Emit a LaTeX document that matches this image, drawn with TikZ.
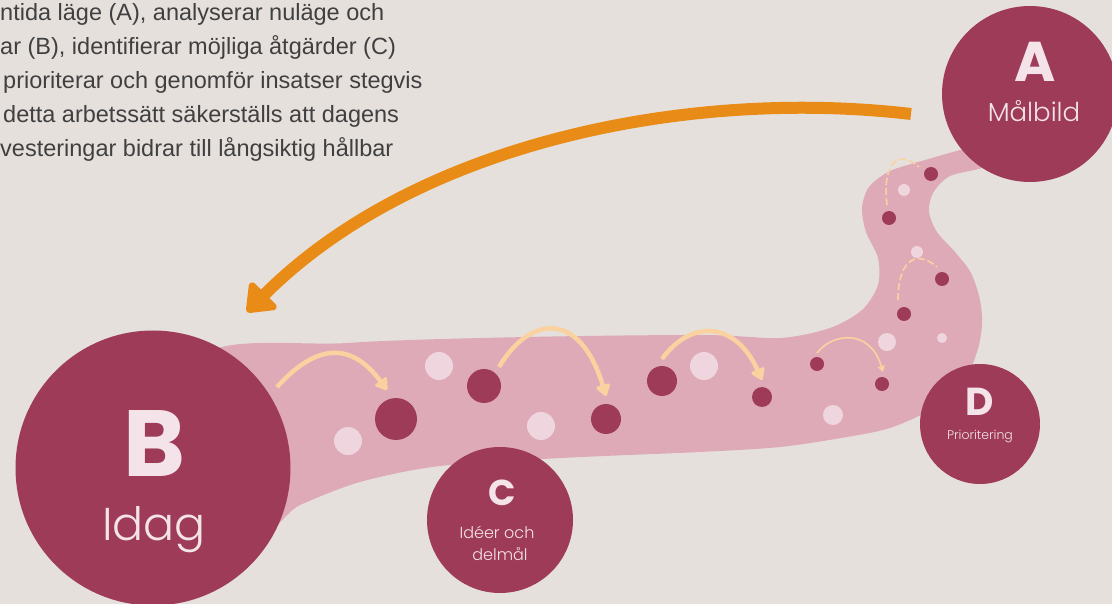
\documentclass[tikz,border=0pt]{standalone}
\usepackage{fontspec}
\usepackage{tikz}
\usetikzlibrary{arrows.meta}
\newfontfamily\parf{Liberation Sans}
\newfontfamily\circf{Poppins}
\IfFontExistsTF{Poppins Light}{\newfontfamily\thinf{Poppins Light}}{\newfontfamily\thinf{Poppins}}
\definecolor{bgc}{HTML}{E6E0DD}
\definecolor{roadc}{HTML}{DEAAB7}
\definecolor{wine}{HTML}{9E3B58}
\definecolor{paled}{HTML}{EFD5DD}
\definecolor{orc}{HTML}{E98C17}
\definecolor{peach}{HTML}{F9D29F}
\definecolor{txtc}{HTML}{404040}
\definecolor{lblc}{HTML}{F4E4E9}
\tikzset{
  bigc/.style={circle,fill=wine,inner sep=0pt},
  dk/.style={circle,fill=wine,inner sep=0pt},
  lt/.style={circle,fill=paled,inner sep=0pt},
  hop/.style={-{Triangle[length=13pt,width=16pt,round]},line width=4.5pt,peach},
  trail/.style={line width=1.6pt,peach,dash pattern=on 7pt off 3pt},
  ltr/.style={anchor=base,text=lblc,inner sep=0pt},
  lbl/.style={anchor=base,text=lblc,inner sep=0pt},
  para/.style={anchor=base west,text=txtc,inner sep=0pt,font=\parf\fontsize{23.5}{28}\selectfont}
}
\begin{document}
\begin{tikzpicture}[x=1pt,y=-1pt]
\fill[bgc] (0,0) rectangle (1112,604);
\useasboundingbox (0,0) rectangle (1112,604);
\clip (0,0) rectangle (1112,604);
% text top left
\foreach \ln/\xo [count=\i] in {{ntida läge (A), analyserar nuläge och}/0,
  {ar (B), identifierar möjliga åtgärder (C)}/0,
  {prioriterar och genomför insatser stegvis}/3,
  {detta arbetssätt säkerställs att dagens}/3,
  {vesteringar bidrar till långsiktig hållbar}/0}
  \node[para] (p\i) at (\xo,21+33.8*\i-33.8) {\ln};
% road
\fill[roadc] plot[smooth cycle,tension=0.5] coordinates {
  (200,360) (347,343) (526,337) (704,335) (780,338) (830,328) (862,310)
  (878,285) (878,258) (866,232) (862,208) (869,187) (890,171) (925,160)
  (960,150) (995,140) (1015,150) (985,167) (950,176) (933,193) (929,212)
  (937,232) (955,252) (971,273) (980,300) (982,325) (977,352) (962,385)
  (930,410) (890,428) (847,437) (780,447) (700,452) (561,458) (440,466)
  (360,482) (300,505) (250,530)};
% dots
\foreach \nm/\px/\py/\r in {d1/396/419/21,d2/484/386/17,d3/606/419/15,
  d4/662/381/15,d5/762/397/10,d6/817/364/7,d7/882/384/7,d8/904/314/7,
  d9/942/279/7,d10/889/218/7,d11/931/174/7}
  \node[dk,minimum size=2*\r] (\nm) at (\px,\py) {};
\foreach \nm/\px/\py/\r in {l1/348/441/14,l2/439/366/14,l3/541/426/14,
  l4/704/366/14,l5/833/415/10,l6/887/342/9,l7/942/338/5,l8/917/252/6,
  l9/904/190/6}
  \node[lt,minimum size=2*\r] (\nm) at (\px,\py) {};
% hops
\coordinate (h1a) at (277,387); \coordinate (h1b) at (387,390);
\coordinate (h2a) at (499,367); \coordinate (h2b) at (606,396);
\coordinate (h3a) at (662,359); \coordinate (h3b) at (762,380);
\coordinate (h4a) at (817,353); \coordinate (h4b) at (883,372);
\draw[hop] (h1a) .. controls (315,345) and (350,340) .. (h1b);
\draw[hop] (h2a) .. controls (530,315) and (580,310) .. (h2b);
\draw[hop] (h3a) .. controls (690,320) and (735,320) .. (h3b);
\draw[peach,line width=1.6pt,-{Triangle[length=6pt,width=7pt]}]
  (h4a) .. controls (832,333) and (870,328) .. (h4b);
\draw[trail] (887,205) .. controls (882,165) and (897,148) .. (919,167);
\draw[trail] (898,300) .. controls (898,262) and (915,248) .. (937,267);
% circles
\node[bigc,minimum size=176] (A) at (1030,94) {};
\node[bigc,minimum size=275] (B) at (153,468) {};
\node[bigc,minimum size=146] (C) at (500,520) {};
\node[bigc,minimum size=120] (D) at (980,424) {};
\node[ltr,font=\circf\bfseries\fontsize{56}{56}\selectfont] (At) at (1035,82) {A};
\node[lbl,font=\thinf\fontsize{26}{30}\selectfont] (Al) at (1034,122) {Målbild};
\node[ltr,font=\circf\bfseries\fontsize{94}{94}\selectfont] (Bt) at (154,476) {B};
\node[lbl,font=\thinf\fontsize{46}{50}\selectfont] (Bl) at (154,540) {Idag};
\node[ltr,font=\circf\bfseries\fontsize{36}{36}\selectfont] (Ct) at (502,505) {C};
\node[lbl,font=\thinf\fontsize{16}{22}\selectfont] (Cl) at (497,538) {Idéer och};
\node[lbl,font=\thinf\fontsize{16}{22}\selectfont] (Cm) at (500,560) {delmål};
\node[ltr,font=\circf\bfseries\fontsize{39}{39}\selectfont] (Dt) at (980,415) {D};
\node[lbl,font=\thinf\fontsize{12.5}{15}\selectfont] (Dl) at (980,439) {Prioritering};
% orange arrow
\coordinate (os) at (911,114);
\coordinate (oe) at (247,312);
\draw[orc,line width=12pt,-{Triangle[length=28pt,width=42pt,round]}]
  (os) .. controls (690,88) and (417,142) .. (oe);
\end{tikzpicture}
\end{document}
